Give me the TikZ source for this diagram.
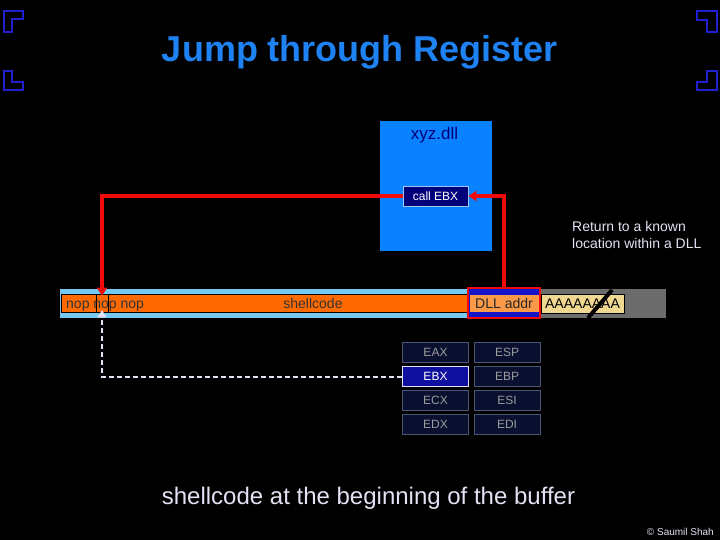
\documentclass[tikz,border=0pt]{standalone}
\usepackage{fontspec}
\usepackage{tikz}
\usetikzlibrary{arrows.meta, positioning}
\setmainfont{Liberation Sans}
\definecolor{TitleBlue}{HTML}{1E82F2}
\definecolor{DllBlue}{HTML}{0A82FF}
\definecolor{DeepNavy}{HTML}{00007A}
\definecolor{CornerBlue}{HTML}{2020D0}
\definecolor{FlatRed}{HTML}{F00A0A}
\definecolor{BufOrange}{HTML}{FF6A00}
\definecolor{AddrOrange}{HTML}{FA9A48}
\definecolor{StripBlue}{HTML}{74C8F2}
\definecolor{AddrBlue}{HTML}{1414C8}
\definecolor{JunkGray}{HTML}{6C6C6C}
\definecolor{JunkYellow}{HTML}{F0D890}
\definecolor{RegFill}{HTML}{0A1030}
\definecolor{RegEdge}{HTML}{4C5474}
\definecolor{RegText}{HTML}{9C9C9C}
\definecolor{SoftWhite}{HTML}{E2E2F4}

\newcommand{\fsz}[1]{\fontsize{#1}{1.2\dimexpr#1pt\relax}\selectfont}

\begin{document}
\begin{tikzpicture}[x=1pt, y=-1pt,
    regbox/.style={draw=RegEdge, fill=RegFill, text=RegText, line width=0.8pt,
        minimum width=66pt, minimum height=20pt, inner sep=0pt, font=\fsz{12}},
    plaintext/.style={inner sep=0pt, font=\fsz{14}},
    corner/.style={CornerBlue, line width=1.5pt},
    redline/.style={FlatRed, line width=4pt, -{Triangle[length=8pt, width=10pt]}}]
        % Background
        \fill[black] (0,0) rectangle (720,540);
        \useasboundingbox (0,0) rectangle (720,540);

        % Corner marks
        \draw[corner] (4,11) -- (23,11) -- (23,19) -- (12,19) -- (12,32) -- (4,32) -- cycle;
        \draw[corner] (4,71) -- (12,71) -- (12,82) -- (23,82) -- (23,90) -- (4,90) -- cycle;
        \draw[corner] (697,11) -- (717,11) -- (717,32) -- (707,32) -- (707,20) -- (697,20) -- cycle;
        \draw[corner] (707,71) -- (717,71) -- (717,90) -- (697,90) -- (697,82) -- (707,82) -- cycle;

        % Title
        \node[text=TitleBlue, font=\fsz{36}\bfseries, inner sep=0pt] (title) at (360,52) {Jump through Register};

        % DLL
        \node[fill=DllBlue, minimum width=112pt, minimum height=130pt, inner sep=0pt] (dll) at (436,186) {};
        \node[text=DeepNavy, font=\fsz{17}, inner sep=0pt] (dllname) at (434.5,135) {xyz.dll};
        \node[fill=DeepNavy, draw=SoftWhite!70!DllBlue, text=white, line width=0.8pt,
              minimum width=65pt, minimum height=20pt, inner sep=0pt, font=\fsz{12}] (callebx) at (435.5,196) {call EBX};

        % Buffer
        \node[fill=StripBlue, minimum width=480pt, minimum height=29pt, inner sep=0pt] (buffer) at (300,303.5) {};
        \node[fill=BufOrange, draw=black, line width=0.8pt, minimum width=479pt, minimum height=18pt, inner sep=0pt] (sled) at (300.5,303) {};
        \node[draw=black, line width=0.6pt, minimum width=12pt, minimum height=18pt, inner sep=0pt] (landing) at (102,303) {};
        \node[plaintext, anchor=base west, text=black!80] (nops) at (66,308) {nop nop nop};
        \node[plaintext, anchor=base, text=black!80] (code) at (313,308) {shellcode};

        % Overwritten return address and junk
        \node[fill=JunkGray, minimum width=125pt, minimum height=29pt, inner sep=0pt] (junk) at (603.5,303.5) {};
        \node[fill=AddrBlue, draw=FlatRed, line width=2.5pt, minimum width=72pt, minimum height=30pt, inner sep=0pt] (dlladdr) at (504,303) {};
        \fill[AddrOrange] (469.5,295) rectangle (538.5,311.5);
        \node[plaintext, anchor=base, text=black!85] (addrtext) at (504,308) {DLL addr};
        \node[fill=JunkYellow, draw=black, line width=0.8pt, minimum width=83pt, minimum height=19pt, inner sep=0pt] (aaaa) at (582.5,303.5) {};
        \node[plaintext, anchor=base, text=black] (fill) at (582.5,308.5) {AAAAAAAA};
        \draw[black, line width=4pt] (588,318) -- (612,290);

        % Jumps
        \draw[redline] (dlladdr.north) |- (callebx.east);
        \draw[redline] (callebx.west) -| ([yshift=-2pt]landing.north);

        % Registers
        \foreach \a/\b/\y in {EAX/ESP/352, ECX/ESI/400, EDX/EDI/424} {
            \node[regbox] (\a) at (435.5,\y) {\a};
            \node[regbox] (\b) at (507,\y) {\b};
        }
        \node[regbox, fill=AddrBlue!80!black, draw=SoftWhite, text=white] (EBX) at (435.5,376.5) {EBX};
        \node[regbox] (EBP) at (507,376.5) {EBP};

        \draw[SoftWhite, line width=2pt, dash pattern=on 5pt off 3pt, -{Triangle[length=7pt, width=9pt]}]
            (EBX.west) -| ([yshift=2pt]landing.south);

        % Labels
        \node[plaintext, text=SoftWhite, anchor=north west, align=left] (note) at (572,221)
            {Return to a known\\location within a DLL};
        \node[text=SoftWhite, font=\fsz{24}, inner sep=0pt] (caption) at (368.5,498)
            {shellcode at the beginning of the buffer};
        \node[text=SoftWhite, font=\fsz{10}, inner sep=0pt, anchor=east] (credit) at (714,532) {© Saumil Shah};

    \end{tikzpicture}
\end{document}
